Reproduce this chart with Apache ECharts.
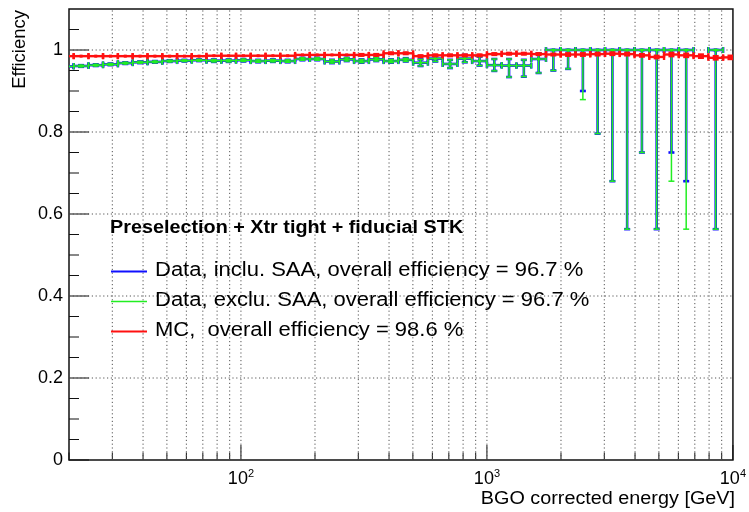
<!DOCTYPE html>
<html>
<head>
<meta charset="utf-8">
<script src="https://cdn.jsdelivr.net/npm/echarts@6/dist/echarts.min.js"></script>
<style>
  html, body { margin: 0; padding: 0; background: #fff; }
  #chart { width: 749px; height: 512px; }
</style>
</head>
<body>
<div id="chart"></div>
<script>
// Energy bins (GeV): log-uniform, 0.06 decade wide
const binEdges = [18.2, 20.9, 24.0, 27.5, 31.6, 36.3, 41.7, 47.9, 55.0, 63.1, 72.4, 83.2,
  95.5, 109.6, 125.9, 144.5, 166.0, 190.5, 218.8, 251.2, 288.4, 331.1, 380.2, 436.5,
  501.2, 575.4, 660.7, 758.6, 871.0, 1000, 1148, 1318, 1514, 1738, 1995, 2291, 2630,
  3020, 3467, 3981, 4571, 5248, 6026, 6918, 7943, 9120, 10471];

// Data, including SAA passages
const effInclu = [0.960, 0.961, 0.963, 0.965, 0.968, 0.970, 0.971, 0.973, 0.974, 0.975,
  0.974, 0.974, 0.975, 0.973, 0.974, 0.973, 0.978, 0.978, 0.972, 0.977,
  0.973, 0.977, 0.973, 0.976, 0.969, 0.979, 0.966, 0.979, 0.973, 0.963,
  0.962, 0.962, 0.978, 1, 1, 1, 1, 1, 1, 1,
  1, 1, 1, null, 1, null];
const errLowInclu = [0.002, 0.002, 0.002, 0.002, 0.002, 0.002, 0.002, 0.002, 0.002, 0.002,
  0.003, 0.003, 0.003, 0.003, 0.003, 0.003, 0.003, 0.003, 0.004, 0.004,
  0.004, 0.004, 0.004, 0.004, 0.008, 0.007, 0.010, 0.009, 0.011, 0.014,
  0.028, 0.027, 0.034, 0.050, 0.046, 0.100, 0.204, 0.320, 0.437, 0.250,
  0.437, 0.250, 0.320, null, 0.437, null];
const errHighInclu = [0.002, 0.002, 0.002, 0.002, 0.002, 0.002, 0.002, 0.002, 0.002, 0.002,
  0.003, 0.003, 0.003, 0.003, 0.003, 0.003, 0.003, 0.003, 0.004, 0.004,
  0.004, 0.004, 0.004, 0.004, 0.008, 0.007, 0.010, 0.009, 0.011, 0.015,
  0.016, 0.014, 0.014, 0, 0, 0, 0, 0, 0, 0,
  0, 0, 0, null, 0, null];

// Data, excluding SAA passages
const effExclu = [0.960, 0.961, 0.963, 0.965, 0.968, 0.970, 0.971, 0.973, 0.974, 0.975,
  0.974, 0.974, 0.975, 0.973, 0.974, 0.973, 0.978, 0.978, 0.972, 0.977,
  0.973, 0.977, 0.973, 0.976, 0.969, 0.979, 0.966, 0.979, 0.973, 0.963,
  0.962, 0.962, 0.978, 1, 1, 1, 1, 1, 1, 1,
  1, 1, 1, null, 1, null];
const errLowExclu = [0.002, 0.002, 0.002, 0.002, 0.002, 0.002, 0.002, 0.002, 0.002, 0.002,
  0.003, 0.003, 0.003, 0.003, 0.003, 0.003, 0.003, 0.003, 0.004, 0.004,
  0.004, 0.004, 0.004, 0.004, 0.008, 0.007, 0.010, 0.009, 0.011, 0.014,
  0.028, 0.027, 0.034, 0.050, 0.046, 0.121, 0.204, 0.320, 0.437, 0.250,
  0.437, 0.320, 0.437, null, 0.437, null];
const errHighExclu = [0.002, 0.002, 0.002, 0.002, 0.002, 0.002, 0.002, 0.002, 0.002, 0.002,
  0.003, 0.003, 0.003, 0.003, 0.003, 0.003, 0.003, 0.003, 0.004, 0.004,
  0.004, 0.004, 0.004, 0.004, 0.008, 0.007, 0.010, 0.009, 0.011, 0.015,
  0.016, 0.014, 0.014, 0, 0, 0, 0, 0, 0, 0,
  0, 0, 0, null, 0, null];

// Monte Carlo
const effMC = [0.985, 0.985, 0.985, 0.985, 0.985, 0.985, 0.985, 0.985, 0.985, 0.985,
  0.986, 0.986, 0.986, 0.986, 0.986, 0.986, 0.988, 0.988, 0.988, 0.988,
  0.988, 0.988, 0.992, 0.992, 0.985, 0.987, 0.987, 0.987, 0.987, 0.990,
  0.991, 0.991, 0.990, 0.989, 0.989, 0.989, 0.990, 0.991, 0.990, 0.987,
  0.983, 0.989, 0.987, 0.985, 0.981, 0.982];
const errMC = [0.001, 0.001, 0.001, 0.001, 0.001, 0.001, 0.001, 0.001, 0.001, 0.001,
  0.001, 0.001, 0.001, 0.001, 0.001, 0.001, 0.001, 0.001, 0.001, 0.001,
  0.002, 0.002, 0.002, 0.002, 0.002, 0.002, 0.002, 0.002, 0.002, 0.002,
  0.002, 0.002, 0.002, 0.002, 0.003, 0.003, 0.003, 0.003, 0.003, 0.003,
  0.003, 0.004, 0.004, 0.004, 0.004, 0.004];

// Axis ticks and grid positions
const xTickValues = [20, 30, 40, 50, 60, 70, 80, 90, 100, 200, 300, 400, 500, 600, 700, 800, 900,
  1000, 2000, 3000, 4000, 5000, 6000, 7000, 8000, 9000, 10000];
const xMajorTicks = [100, 1000, 10000];
const yTickValues = [0, 0.05, 0.1, 0.15, 0.2, 0.25, 0.3, 0.35, 0.4, 0.45, 0.5, 0.55, 0.6,
  0.65, 0.7, 0.75, 0.8, 0.85, 0.9, 0.95, 1.0, 1.05];
const yMajorTicks = [0, 0.2, 0.4, 0.6, 0.8, 1.0];

const X_MIN = 20, X_MAX = 10000, Y_MIN = 0, Y_MAX = 1.1;
const FONT = "'Liberation Sans', Arial, Helvetica, sans-serif";
const TEXT_STRETCH = 1.1;   // Helvetica-style text is set slightly wide

const legendTitle = 'Preselection + Xtr tight + fiducial STK';
const nameInclu = 'Data, inclu. SAA, overall efficiency = 96.7 %';
const nameExclu = 'Data, exclu. SAA, overall efficiency = 96.7 %';
const nameMC = 'MC,  overall efficiency = 98.6 %';

const colInclu = '#1010ff', colExclu = '#22ee22', colMC = '#ff1010';

function binRows(values, errLow, errHigh) {
  const rows = [];
  for (let i = 0; i < values.length; i++) {
    if (values[i] == null) continue;
    rows.push([binEdges[i], binEdges[i + 1], values[i], errLow[i], errHigh[i]]);
  }
  return rows;
}

// Points with horizontal (bin width) and vertical error bars, end caps and a small square marker
function errorBarRenderer(color, width) {
  return function (params, api) {
    const lo = api.value(0), hi = api.value(1), v = api.value(2);
    const eL = api.value(3), eH = api.value(4);
    const c = Math.sqrt(lo * hi);
    const pl = api.coord([lo, v]), pr = api.coord([hi, v]), pc = api.coord([c, v]);
    const pt = api.coord([c, v + eH]), pb = api.coord([c, v - eL]);
    const cap = 3;
    const st = { stroke: color, lineWidth: width, fill: null };
    const ln = (x1, y1, x2, y2) => ({ type: 'line', shape: { x1, y1, x2, y2 }, style: st });
    const kids = [
      ln(pl[0], pc[1], pr[0], pc[1]),
      ln(pl[0], pc[1] - cap, pl[0], pc[1] + cap),
      ln(pr[0], pc[1] - cap, pr[0], pc[1] + cap)
    ];
    if (pb[1] - pt[1] > 1) {
      kids.push(ln(pc[0], pt[1], pc[0], pb[1]));
      kids.push(ln(pc[0] - cap, pt[1], pc[0] + cap, pt[1]));
      kids.push(ln(pc[0] - cap, pb[1], pc[0] + cap, pb[1]));
    }
    kids.push({ type: 'rect', shape: { x: pc[0] - 1.5, y: pc[1] - 1.5, width: 3, height: 3 },
      style: { fill: color } });
    return { type: 'group', children: kids };
  };
}

const dotted = { stroke: '#555', lineWidth: 1, lineDash: [1.2, 2.6], fill: null };
const tickStyle = { stroke: '#111', lineWidth: 1, fill: null };

function xGridRenderer(params, api) {
  const v = api.value(0);
  const p0 = api.coord([v, Y_MIN]), p1 = api.coord([v, Y_MAX]);
  const len = xMajorTicks.indexOf(v) >= 0 ? 15 : 7.5;
  const kids = [{ type: 'line', shape: { x1: p0[0], y1: p0[1], x2: p0[0], y2: p0[1] - len }, style: tickStyle }];
  if (v > X_MIN && v < X_MAX) {
    kids.push({ type: 'line', shape: { x1: p0[0], y1: p0[1], x2: p1[0], y2: p1[1] }, style: dotted });
  }
  return { type: 'group', children: kids };
}

function yGridRenderer(params, api) {
  const v = api.value(0);
  const p0 = api.coord([X_MIN, v]), p1 = api.coord([X_MAX, v]);
  const major = yMajorTicks.some(m => Math.abs(m - v) < 1e-9);
  const kids = [{ type: 'line', shape: { x1: p0[0], y1: p0[1], x2: p0[0] + (major ? 20 : 10), y2: p0[1] }, style: tickStyle }];
  if (major && v > Y_MIN) {
    kids.push({ type: 'line', shape: { x1: p0[0], y1: p0[1], x2: p1[0], y2: p1[1] }, style: dotted });
  }
  return { type: 'group', children: kids };
}

// Legend block: heading plus one line sample and label per series
function legendGraphics() {
  const rows = [
    { name: nameInclu, color: colInclu, width: 2 },
    { name: nameExclu, color: colExclu, width: 1.5 },
    { name: nameMC, color: colMC, width: 2 }
  ];
  const g = [{
    type: 'text', x: 110, y: 228, scaleX: TEXT_STRETCH, z: 10,
    style: { text: legendTitle, font: 'bold 18px ' + FONT, fill: '#000', align: 'left', verticalAlign: 'middle' }
  }];
  rows.forEach((r, i) => {
    const y = 271.5 + 30 * i;
    g.push({ type: 'line', z: 10, shape: { x1: 111, y1: y, x2: 147, y2: y },
      style: { stroke: r.color, lineWidth: r.width } });
    g.push({ type: 'text', x: 155, y: y - 1, scaleX: TEXT_STRETCH, z: 10,
      style: { text: r.name, font: '20px ' + FONT, fill: '#000', align: 'left', verticalAlign: 'middle' } });
  });
  return g;
}

const chart = echarts.init(document.getElementById('chart'), null, { renderer: 'canvas' });

chart.setOption({
  animation: false,
  backgroundColor: '#fff',
  grid: { left: 69, right: 14, top: 9, bottom: 52, show: true, borderColor: '#111', borderWidth: 1.5, backgroundColor: 'transparent' },
  xAxis: {
    type: 'log', logBase: 10, min: X_MIN, max: X_MAX,
    axisLine: { show: false }, axisTick: { show: false }, splitLine: { show: false },
    minorTick: { show: false }, minorSplitLine: { show: false },
    axisLabel: {
      margin: 8,
      formatter: function (v) {
        const e = Math.log10(v);
        if (Math.abs(e - Math.round(e)) > 1e-6) return '';
        return '{b|10}{s|' + Math.round(e) + '}';
      },
      rich: {
        b: { fontFamily: FONT, fontSize: 18, lineHeight: 22, color: '#000' },
        s: { fontFamily: FONT, fontSize: 11, lineHeight: 12, verticalAlign: 'top', color: '#000' }
      }
    }
  },
  yAxis: {
    type: 'value', min: Y_MIN, max: Y_MAX, interval: 0.2,
    axisLine: { show: false }, axisTick: { show: false }, splitLine: { show: false },
    axisLabel: {
      margin: 6, color: '#000', fontFamily: FONT, fontSize: 18,
      formatter: v => (v > 1.05 ? '' : String(Math.round(v * 10) / 10))
    }
  },
  graphic: legendGraphics().concat([
    { type: 'text', x: 735, y: 499, scaleX: TEXT_STRETCH, z: 10,
      style: { text: 'BGO corrected energy [GeV]', font: '18px ' + FONT, fill: '#000', align: 'right', verticalAlign: 'middle' } },
    { type: 'text', x: 20, y: 10, rotation: Math.PI / 2, z: 10,
      style: { text: 'Efficiency', font: '18.5px ' + FONT, fill: '#000', align: 'right', verticalAlign: 'middle' } }
  ]),
  series: [
    { type: 'custom', name: 'xgrid', silent: true, z: 1, clip: false,
      data: xTickValues.map(v => [v]), encode: { x: 0 }, renderItem: xGridRenderer },
    { type: 'custom', name: 'ygrid', silent: true, z: 1, clip: false,
      data: yTickValues.map(v => [v]), encode: { y: 0 }, renderItem: yGridRenderer },
    { type: 'custom', name: nameInclu, z: 3, clip: true, itemStyle: { color: colInclu },
      encode: { x: [0, 1], y: 2 },
      data: binRows(effInclu, errLowInclu, errHighInclu), renderItem: errorBarRenderer(colInclu, 2.6) },
    { type: 'custom', name: nameExclu, z: 4, clip: true, itemStyle: { color: colExclu },
      encode: { x: [0, 1], y: 2 },
      data: binRows(effExclu, errLowExclu, errHighExclu), renderItem: errorBarRenderer(colExclu, 1.5) },
    { type: 'custom', name: nameMC, z: 5, clip: true, itemStyle: { color: colMC },
      encode: { x: [0, 1], y: 2 },
      data: binRows(effMC, errMC, errMC), renderItem: errorBarRenderer(colMC, 2.4) }
  ]
});
</script>
</body>
</html>
